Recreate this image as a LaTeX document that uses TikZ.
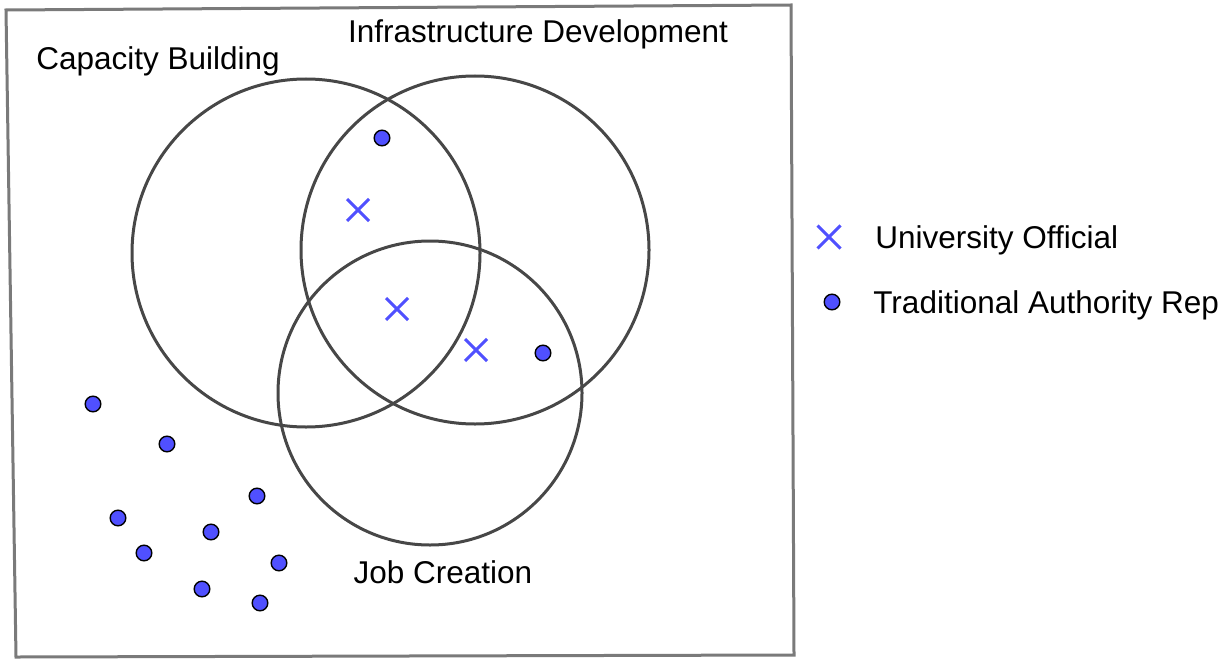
\documentclass[tikz,border=0pt]{standalone}
\usepackage{fontspec}
\setmainfont{Liberation Sans}
\usetikzlibrary{shapes.misc}
\definecolor{ringgray}{HTML}{474747}
\definecolor{framegray}{HTML}{7A7A7A}
\definecolor{markblue}{HTML}{5050FF}
\tikzstyle{frame} = [draw=framegray, line width=1.5pt]
\tikzstyle{ring} = [draw=ringgray, line width=1.5pt]
\tikzstyle{official} = [cross out, draw=markblue, line width=1.5pt, minimum size=9.5pt, inner sep=0pt]
\tikzstyle{rep} = [circle, draw=black, fill=markblue, line width=0.7pt, minimum size=7.8pt, inner sep=0pt]
\tikzstyle{lbl} = [font=\fontsize{15.75}{18}\selectfont, inner sep=0pt]

\begin{document}
\begin{tikzpicture}[yscale=-1,x=0.5pt,y=0.5pt]
			\useasboundingbox (0,0) rectangle (1229,658);
			% outer frame
			\draw[frame] (6,10) -- (791,5) -- (794,655) -- (16,657) -- cycle;
			% the three sets
			\draw[ring] (306,253) circle [radius=174];
			\draw[ring] (475,250) circle [radius=174];
			\draw[ring] (430,393) circle [radius=152];
			\node[lbl, anchor=base] (capacity) at (158,69) {Capacity Building};
			\node[lbl, anchor=base] (infra) at (538,43) {Infrastructure Development};
			\node[lbl, anchor=base] (jobs) at (443,583) {Job Creation};
			% university officials
			\node[official] (u1) at (358,210) {};
			\node[official] (u2) at (397,309) {};
			\node[official] (u3) at (476,350) {};
			% traditional authority reps
			\node[rep] (r1) at (382,138) {};
			\node[rep] (r2) at (543,353) {};
			\node[rep] (r3) at (93,404) {};
			\node[rep] (r4) at (167,444) {};
			\node[rep] (r5) at (257,496) {};
			\node[rep] (r6) at (118,518) {};
			\node[rep] (r7) at (211,532) {};
			\node[rep] (r8) at (144,553) {};
			\node[rep] (r9) at (279,563) {};
			\node[rep] (r10) at (202,589) {};
			\node[rep] (r11) at (260,603) {};
			% legend
			\node[official, minimum size=10pt] (keyu) at (829,237) {};
			\node[lbl, anchor=base west] (keyutext) at (875,248) {University Official};
			\node[rep] (keyr) at (832,302) {};
			\node[lbl, anchor=base west] (keyrtext) at (873,313) {Traditional Authority Rep};
		\end{tikzpicture}
\end{document}
